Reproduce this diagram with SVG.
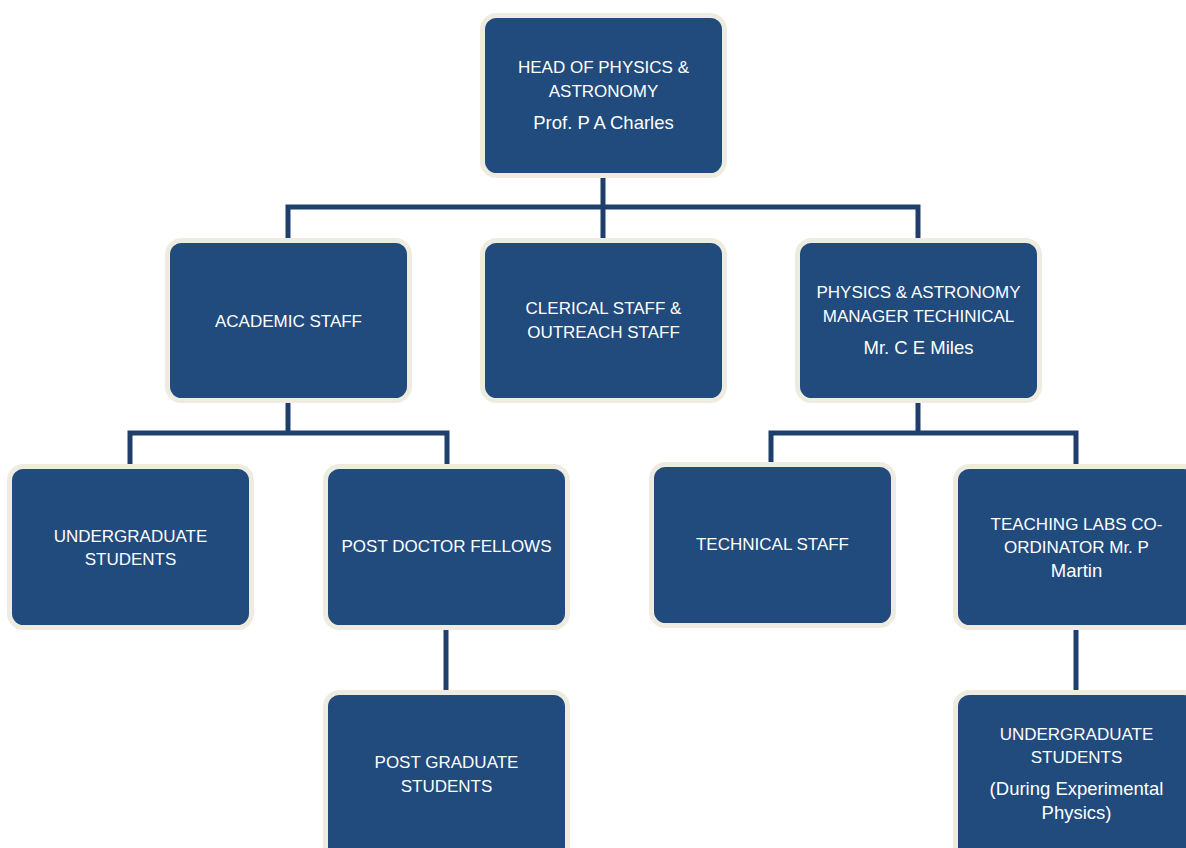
<svg xmlns="http://www.w3.org/2000/svg" width="1186" height="848" viewBox="0 0 1186 848">
<style>
.box{fill:#214A7D;stroke:#EEECE1;stroke-width:5}
.t{font-family:"Liberation Sans",Arial,sans-serif;font-size:17px;fill:#FFFFFF;text-anchor:middle}
.m{font-size:18.5px}
.c{fill:none;stroke:#1F3E6B;stroke-width:5}
</style>
<rect width="1186" height="848" fill="#FFFFFF"/>
<g id="connectors">
<path class="c" d="M603,175 V240 M288,240 V207 H918 V240"/>
<path class="c" d="M288,401 V433 M130,466 V433 H447 V466"/>
<path class="c" d="M918,401 V433 M771,466 V433 H1076 V466"/>
<path class="c" d="M446,628 V692"/>
<path class="c" d="M1076,628 V692"/>
</g>
<g id="head">
<rect class="box" x="482.5" y="15.5" width="242" height="160" rx="14"/>
<text class="t" x="603.5" y="73">HEAD OF PHYSICS &amp;</text>
<text class="t" x="603.5" y="97">ASTRONOMY</text>
<text class="t m" x="603.5" y="129">Prof. P A Charles</text>
</g>
<g id="academic">
<rect class="box" x="167.5" y="240.5" width="242" height="160" rx="14"/>
<text class="t" x="288.5" y="327">ACADEMIC STAFF</text>
</g>
<g id="clerical">
<rect class="box" x="482.5" y="240.5" width="242" height="160" rx="14"/>
<text class="t" x="603.5" y="314">CLERICAL STAFF &amp;</text>
<text class="t" x="603.5" y="338">OUTREACH STAFF</text>
</g>
<g id="manager">
<rect class="box" x="797.5" y="240.5" width="242" height="160" rx="14"/>
<text class="t" x="918.5" y="298">PHYSICS &amp; ASTRONOMY</text>
<text class="t" x="918.5" y="322">MANAGER TECHINICAL</text>
<text class="t m" x="918.5" y="354">Mr. C E Miles</text>
</g>
<g id="undergrad">
<rect class="box" x="9.5" y="466.5" width="242" height="161" rx="14"/>
<text class="t" x="130.5" y="542">UNDERGRADUATE</text>
<text class="t" x="130.5" y="565">STUDENTS</text>
</g>
<g id="postdoc">
<rect class="box" x="325.5" y="466.5" width="242" height="161" rx="14"/>
<text class="t" x="446.5" y="552">POST DOCTOR FELLOWS</text>
</g>
<g id="technical">
<rect class="box" x="651.5" y="464.5" width="242" height="161" rx="14"/>
<text class="t" x="772.5" y="550">TECHNICAL STAFF</text>
</g>
<g id="teaching">
<rect class="box" x="955.5" y="466.5" width="242" height="161" rx="14"/>
<text class="t" x="1076.5" y="530">TEACHING LABS CO-</text>
<text class="t" x="1076.5" y="553">ORDINATOR Mr. P</text>
<text class="t m" x="1076.5" y="577">Martin</text>
</g>
<g id="postgrad">
<rect class="box" x="325.5" y="692.5" width="242" height="170" rx="14"/>
<text class="t" x="446.5" y="768">POST GRADUATE</text>
<text class="t" x="446.5" y="792">STUDENTS</text>
</g>
<g id="undergrad-exp">
<rect class="box" x="955.5" y="692.5" width="242" height="170" rx="14"/>
<text class="t" x="1076.5" y="740">UNDERGRADUATE</text>
<text class="t" x="1076.5" y="763">STUDENTS</text>
<text class="t m" x="1076.5" y="795">(During Experimental</text>
<text class="t m" x="1076.5" y="819">Physics)</text>
</g>
</svg>
